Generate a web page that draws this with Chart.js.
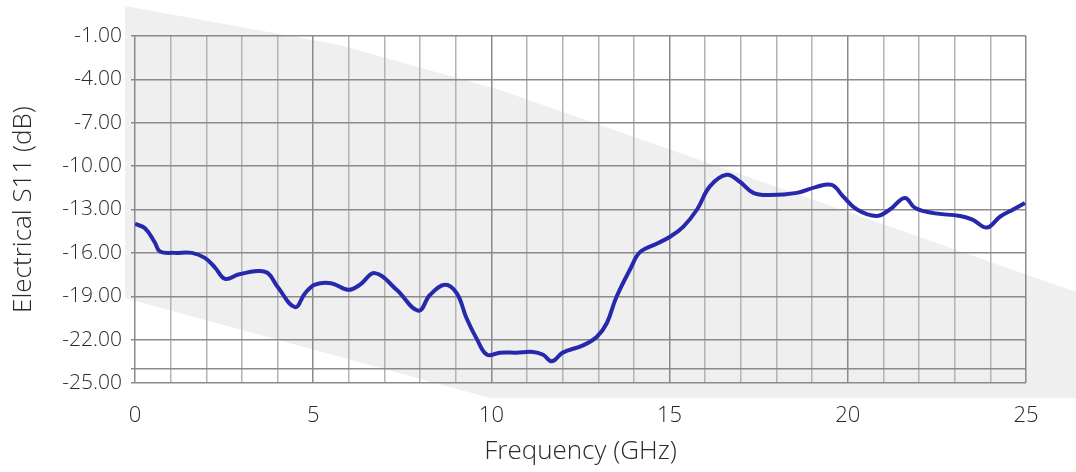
<!DOCTYPE html>
<html>
<head>
<meta charset="utf-8">
<script src="https://cdn.jsdelivr.net/npm/chart.js@4.4.0/dist/chart.umd.min.js"></script>
<style>
html,body{margin:0;padding:0;background:#fff;}
#wrap{width:1076px;height:472px;position:relative;}
</style>
</head>
<body>
<div id="wrap"><canvas id="c" width="1076" height="472"></canvas></div>
<script>
const freqGHz = [0, 0.28, 0.56, 0.7, 1.1, 1.6, 1.96, 2.24, 2.53, 2.9, 3.45, 3.73, 4.0, 4.49, 4.77, 5.05, 5.5, 5.98, 6.31, 6.73, 7.34, 7.95, 8.28, 8.7, 9.03, 9.3, 9.6, 9.88, 10.24, 10.7, 11.17, 11.45, 11.7, 12.0, 12.57, 12.96, 13.24, 13.5, 13.9, 14.17, 14.65, 15.0, 15.38, 15.77, 16.13, 16.6, 16.98, 17.35, 17.82, 18.57, 19.1, 19.55, 19.87, 20.26, 20.8, 21.18, 21.6, 21.89, 22.4, 23.15, 23.5, 23.9, 24.27, 24.64, 24.97];
const s11dB = [-14.0, -14.3, -15.3, -15.9, -16.0, -16.0, -16.35, -17.0, -17.8, -17.5, -17.25, -17.4, -18.35, -19.75, -18.8, -18.2, -18.1, -18.55, -18.2, -17.4, -18.55, -20.0, -18.9, -18.2, -18.8, -20.5, -22.0, -23.05, -22.9, -22.9, -22.85, -23.05, -23.5, -22.9, -22.4, -21.8, -20.85, -19.1, -17.1, -15.95, -15.35, -14.9, -14.2, -13.0, -11.4, -10.6, -11.1, -11.85, -12.0, -11.85, -11.45, -11.3, -12.1, -13.0, -13.45, -13.0, -12.2, -12.9, -13.25, -13.45, -13.7, -14.25, -13.5, -13.0, -12.55];
const yTickValues = [-25, -24, -22, -19, -16, -13, -10, -7, -4, -1];
const yLabelValues = [-25, -22, -19, -16, -13, -10, -7, -4, -1];
const xLabelValues = [0, 5, 10, 15, 20, 25];
const xTitle = 'Frequency (GHz)';
const yTitle = 'Electrical S11 (dB)';

const FONT = "'Open Sans', 'Noto Sans', sans-serif";

const bgPlugin = {
  id: 'bg',
  beforeDraw(chart) {
    const ctx = chart.ctx;
    ctx.save();
    ctx.fillStyle = '#ffffff';
    ctx.fillRect(0, 0, chart.width, chart.height);
    ctx.fillStyle = '#efefef';
    ctx.beginPath();
    ctx.moveTo(125, 6);
    ctx.lineTo(340, 45);
    ctx.lineTo(500, 90);
    ctx.lineTo(700, 160);
    ctx.lineTo(1076, 292);
    ctx.lineTo(1076, 398);
    ctx.lineTo(490, 398);
    ctx.lineTo(125, 298);
    ctx.closePath();
    ctx.fill();
    ctx.restore();
  }
};

const points = freqGHz.map((f, i) => ({x: f, y: s11dB[i]}));

new Chart(document.getElementById('c'), {
  type: 'line',
  data: {
    datasets: [{
      data: points,
      borderColor: '#2828ad',
      borderWidth: 4,
      pointRadius: 0,
      tension: 0.4,
      fill: false
    }]
  },
  options: {
    responsive: false,
    animation: false,
    layout: {padding: {top: 36, right: 50, left: 0, bottom: 0}},
    plugins: {legend: {display: false}, tooltip: {enabled: false}},
    scales: {
      x: {
        type: 'linear',
        min: 0, max: 25,
        afterBuildTicks(scale) {
          const t = [];
          for (let v = 0; v <= 25; v++) t.push({value: v});
          scale.ticks = t;
        },
        afterFit(scale) { scale.height = 89; },
        grid: {
          drawTicks: false,
          color: ctx => (ctx.tick && xLabelValues.includes(ctx.tick.value)) ? '#8a8a8a' : '#b4b4b4',
          lineWidth: 1.5
        },
        border: {display: false},
        ticks: {
          padding: 20,
          autoSkip: false,
          maxRotation: 0,
          color: '#2a2a2a',
          font: {family: FONT, size: 22, weight: '300'},
          callback: v => xLabelValues.includes(v) ? String(v) : ''
        },
        title: {
          display: true, text: xTitle, color: '#2a2a2a',
          font: {family: FONT, size: 26, weight: '300'},
          padding: {top: 0, bottom: 5}
        }
      },
      y: {
        type: 'linear',
        min: -25, max: -1,
        afterBuildTicks(scale) {
          scale.ticks = yTickValues.map(v => ({value: v}));
        },
        afterFit(scale) { scale.width = 135; },
        grid: {
          drawTicks: true,
          tickLength: 4,
          color: '#8a8a8a',
          lineWidth: 1.5
        },
        border: {display: false},
        ticks: {
          padding: 9,
          autoSkip: false,
          color: '#2a2a2a',
          font: {family: FONT, size: 21, weight: '300'},
          callback: v => yLabelValues.includes(v) ? v.toFixed(2) : ''
        },
        title: {
          display: true, text: yTitle, color: '#2a2a2a',
          font: {family: FONT, size: 26, weight: '300'},
          padding: {top: 8, bottom: 0}
        }
      }
    }
  },
  plugins: [bgPlugin]
});
</script>
</body>
</html>
